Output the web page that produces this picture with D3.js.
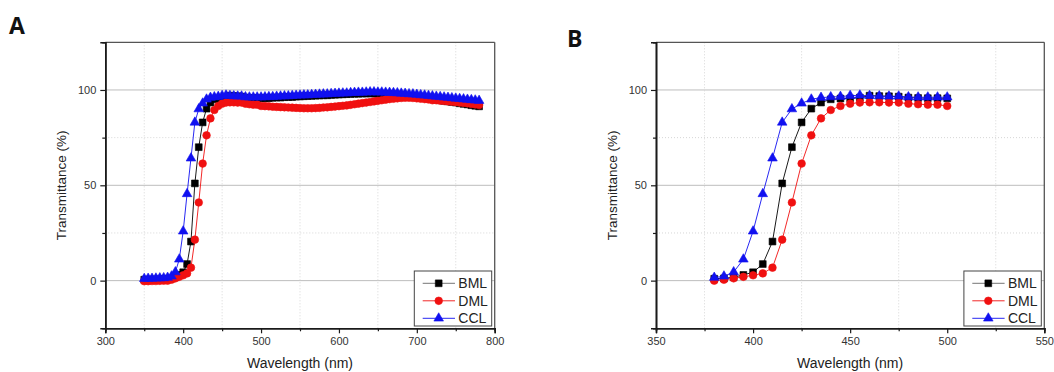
<!DOCTYPE html>
<html>
<head>
<meta charset="utf-8">
<script src="https://cdn.jsdelivr.net/npm/d3@7"></script>
<style>
  body { margin: 0; background: #fff; }
  svg { display: block; font-family: "Liberation Sans", Arial, sans-serif; }
</style>
</head>
<body>
<svg id="chart" width="1054" height="372"></svg>
<script>
// Wavelength samples (nm), panel A covers the whole scan
var wavelength = [350,355,360,365,370,375,380,385,390,395,400,405,410,415,420,425,430,435,440,445,
  450,455,460,465,470,475,480,485,490,495,500,505,510,515,520,525,530,535,540,545,
  550,555,560,565,570,575,580,585,590,595,600,605,610,615,620,625,630,635,640,645,
  650,655,660,665,670,675,680,685,690,695,700,705,710,715,720,725,730,735,740,745,
  750,755,760,765,770,775,780];

// Transmittance (%)
var bml = [0.5,0.5,0.6,0.6,0.7,0.8,
  1.0,1.2,1.8,3.0,4.4,8.7,20.5,51.0,70.0,83.0,90.2,93.4,95.1,95.5,95.6,96.0,97.0,96.8,96.7,96.5,96.0,95.8,95.7,95.7,95.6,
  95.7,95.7,95.9,96.0,96.0,96.2,96.3,96.3,96.5,96.6,
  96.7,96.8,96.9,97.0,97.1,97.2,97.2,97.4,97.5,97.6,
  97.7,97.8,97.9,98.0,98.0,98.1,98.1,98.2,98.1,98.0,
  98.0,97.9,97.8,97.7,97.5,97.3,97.1,96.9,96.7,96.4,
  96.1,95.8,95.5,95.2,94.9,94.6,94.3,94.0,93.7,93.4,
  93.0,92.7,92.4,92.0,91.7,91.4];
var dml = [-0.3,-0.3,-0.2,-0.2,-0.1,0.0,
  0.0,0.5,1.2,2.0,2.8,3.8,6.8,21.5,41.0,61.4,76.2,85.1,89.5,91.6,92.8,93.4,93.5,93.5,93.4,93.4,92.8,92.5,92.3,92.3,91.6,
  91.5,91.4,91.2,91.1,91.0,90.9,90.8,90.7,90.6,90.5,
  90.4,90.4,90.4,90.5,90.6,90.8,90.9,91.1,91.3,91.5,
  91.7,91.9,92.2,92.5,92.8,93.1,93.4,93.7,94.0,94.3,
  94.6,94.9,95.2,95.4,95.6,95.8,95.9,95.9,95.8,95.6,
  95.4,95.2,95.0,94.6,94.6,94.4,94.2,94.0,93.8,93.6,
  93.4,93.2,93.0,92.7,92.4,92.1];
var ccl = [1.0,1.1,1.1,1.2,1.3,1.4,
  1.6,2.3,4.5,11.2,25.9,45.5,64.2,83.0,90.0,93.0,95.1,96.0,96.3,96.5,97.0,97.2,97.0,96.8,96.7,96.7,96.3,96.2,96.2,96.2,96.2,
  96.3,96.4,96.4,96.6,96.7,96.8,96.8,97.0,97.1,97.2,
  97.3,97.3,97.5,97.6,97.7,97.8,97.8,98.0,98.1,98.2,
  98.3,98.3,98.5,98.6,98.7,98.7,98.8,98.9,98.9,98.8,
  98.8,98.7,98.6,98.5,98.4,98.2,98.1,97.9,97.8,97.6,
  97.4,97.2,97.0,96.8,96.6,96.4,96.2,96.0,95.8,95.6,
  95.4,95.2,95.0,94.8,94.6,94.4];

var seriesNames = ["BML", "DML", "CCL"];
var seriesValues = [bml, dml, ccl];

var xTicksA = [300, 400, 500, 600, 700, 800];
var xMinorA = [350, 450, 550, 650, 750];
var xTicksB = [350, 400, 450, 500, 550];
var xMinorB = [375, 425, 475, 525];
var yTicks = [0, 50, 100];
var yMinor = [25, 75];

var colors = ["#000000", "#f01010", "#1010f0"];
var symbols = [d3.symbolSquare, d3.symbolCircle, d3.symbolTriangle];
var symbolSizes = [46, 46, 40];

var svg = d3.select("#chart");
svg.append("rect").attr("width", 1054).attr("height", 372).attr("fill", "#fff");

/**
 * Draws one Origin-style panel: frame, grid, axes, series and legend.
 */
function drawPanel(cfg) {
  var x = d3.scaleLinear().domain(cfg.xDomain).range([cfg.left, cfg.right]);
  var y = d3.scaleLinear().domain([-25, 125]).range([cfg.bottom, cfg.top]);
  var g = svg.append("g");

  // grid: solid at major y, dotted at minor x and y
  g.selectAll(".gy").data(yTicks).enter().append("line")
    .attr("x1", cfg.left).attr("x2", cfg.right)
    .attr("y1", function (d) { return y(d); }).attr("y2", function (d) { return y(d); })
    .attr("stroke", "#bdbdbd").attr("stroke-width", 1);
  g.selectAll(".gym").data(yMinor).enter().append("line")
    .attr("x1", cfg.left).attr("x2", cfg.right)
    .attr("y1", function (d) { return y(d); }).attr("y2", function (d) { return y(d); })
    .attr("stroke", "#d6d6d6").attr("stroke-width", 1).attr("stroke-dasharray", "1,2");
  g.selectAll(".gxm").data(cfg.xMinor).enter().append("line")
    .attr("y1", cfg.top).attr("y2", cfg.bottom)
    .attr("x1", function (d) { return x(d); }).attr("x2", function (d) { return x(d); })
    .attr("stroke", "#d6d6d6").attr("stroke-width", 1).attr("stroke-dasharray", "1,2");

  // series in drawing order: line first, then symbols
  var pts = [];
  wavelength.forEach(function (w, i) {
    if (w >= cfg.dataRange[0] && w <= cfg.dataRange[1]) pts.push(i);
  });
  seriesValues.forEach(function (vals, s) {
    var line = d3.line()
      .x(function (i) { return x(wavelength[i]); })
      .y(function (i) { return y(vals[i]); });
    g.append("path").datum(pts).attr("d", line)
      .attr("fill", "none").attr("stroke", colors[s]).attr("stroke-width", 0.9);
    g.selectAll(".m" + s).data(pts).enter().append("path")
      .attr("d", d3.symbol().type(symbols[s]).size(symbolSizes[s]))
      .attr("transform", function (i) { return "translate(" + x(wavelength[i]) + "," + y(vals[i]) + ")"; })
      .attr("fill", colors[s]).attr("stroke", colors[s]).attr("stroke-width", 0.6);
  });

  // frame: top/right lighter, left/bottom axes black
  g.append("line").attr("x1", cfg.left).attr("x2", cfg.right).attr("y1", cfg.top).attr("y2", cfg.top)
    .attr("stroke", "#555").attr("stroke-width", 1.3);
  g.append("line").attr("x1", cfg.right).attr("x2", cfg.right).attr("y1", cfg.top).attr("y2", cfg.bottom)
    .attr("stroke", "#555").attr("stroke-width", 1.3);

  var xAxis = d3.axisBottom(x).tickValues(cfg.xTicks).tickSize(5).tickPadding(4).tickFormat(d3.format("d"));
  var xMinorAxis = d3.axisBottom(x).tickValues(cfg.xMinor).tickSize(3).tickFormat("");
  var yAxis = d3.axisLeft(y).tickValues(yTicks).tickSize(5).tickPadding(4).tickFormat(d3.format("d"));
  var yMinorAxis = d3.axisLeft(y).tickValues(yMinor).tickSize(3).tickFormat("");

  var axes = [
    g.append("g").attr("transform", "translate(0," + cfg.bottom + ")").call(xAxis),
    g.append("g").attr("transform", "translate(0," + cfg.bottom + ")").call(xMinorAxis),
    g.append("g").attr("transform", "translate(" + cfg.left + ",0)").call(yAxis),
    g.append("g").attr("transform", "translate(" + cfg.left + ",0)").call(yMinorAxis)
  ];
  axes.forEach(function (a) {
    a.select(".domain").attr("stroke", "#1a1a1a").attr("stroke-width", 1.6);
    a.selectAll(".tick line").attr("stroke", "#1a1a1a").attr("stroke-width", 1.2);
    a.selectAll(".tick text").attr("fill", "#333").attr("font-size", 11)
      .attr("font-family", "'Liberation Sans', Arial, sans-serif");
  });

  // axis titles
  svg.append("text")
    .attr("transform", "translate(" + cfg.yTitleX + "," + ((cfg.top + cfg.bottom) / 2) + ") rotate(-90)")
    .attr("text-anchor", "middle").attr("font-size", 13.5).attr("fill", "#222")
    .text("Transmittance (%)");
  svg.append("text")
    .attr("x", (cfg.left + cfg.right) / 2).attr("y", 368)
    .attr("text-anchor", "middle").attr("font-size", 14).attr("fill", "#222")
    .text("Wavelength (nm)");

  // panel letter
  svg.append("text").attr("x", cfg.letterX).attr("y", cfg.letterY)
    .attr("font-family", "'Open Sans', 'DejaVu Sans', sans-serif")
    .attr("font-weight", "bold").attr("font-size", 23).attr("fill", "#111")
    .text(cfg.letter);

  // legend box anchored at the lower right corner
  var lx = cfg.right - 80.4, ly = cfg.bottom - 57.3;
  var legend = g.append("g").attr("transform", "translate(" + lx + "," + ly + ")");
  legend.append("rect").attr("width", 77.4).attr("height", 55)
    .attr("fill", "#fff").attr("stroke", "#444").attr("stroke-width", 1);
  seriesNames.forEach(function (name, s) {
    var ry = 12.3 + s * 17.5;
    legend.append("line").attr("x1", 8.4).attr("x2", 40.7).attr("y1", ry).attr("y2", ry)
      .attr("stroke", s === 0 ? "#666" : colors[s]).attr("stroke-width", 0.9);
    legend.append("path")
      .attr("d", d3.symbol().type(symbols[s]).size(symbolSizes[s]))
      .attr("transform", "translate(24.4," + ry + ")")
      .attr("fill", colors[s]).attr("stroke", colors[s]).attr("stroke-width", 0.6);
    legend.append("text").attr("x", 44).attr("y", ry + 5)
      .attr("font-size", 14).attr("fill", "#222").text(name);
  });
}

drawPanel({
  letter: "A", letterX: 9, letterY: 34,
  left: 105.3, right: 494.7, top: 42.3, bottom: 328.3,
  xDomain: [300, 800], xTicks: xTicksA, xMinor: xMinorA,
  dataRange: [350, 780], yTitleX: 66
});
drawPanel({
  letter: "B", letterX: 567, letterY: 46.5,
  left: 656, right: 1044.3, top: 42.3, bottom: 328.3,
  xDomain: [350, 550], xTicks: xTicksB, xMinor: xMinorB,
  dataRange: [380, 500], yTitleX: 617
});
</script>
</body>
</html>
